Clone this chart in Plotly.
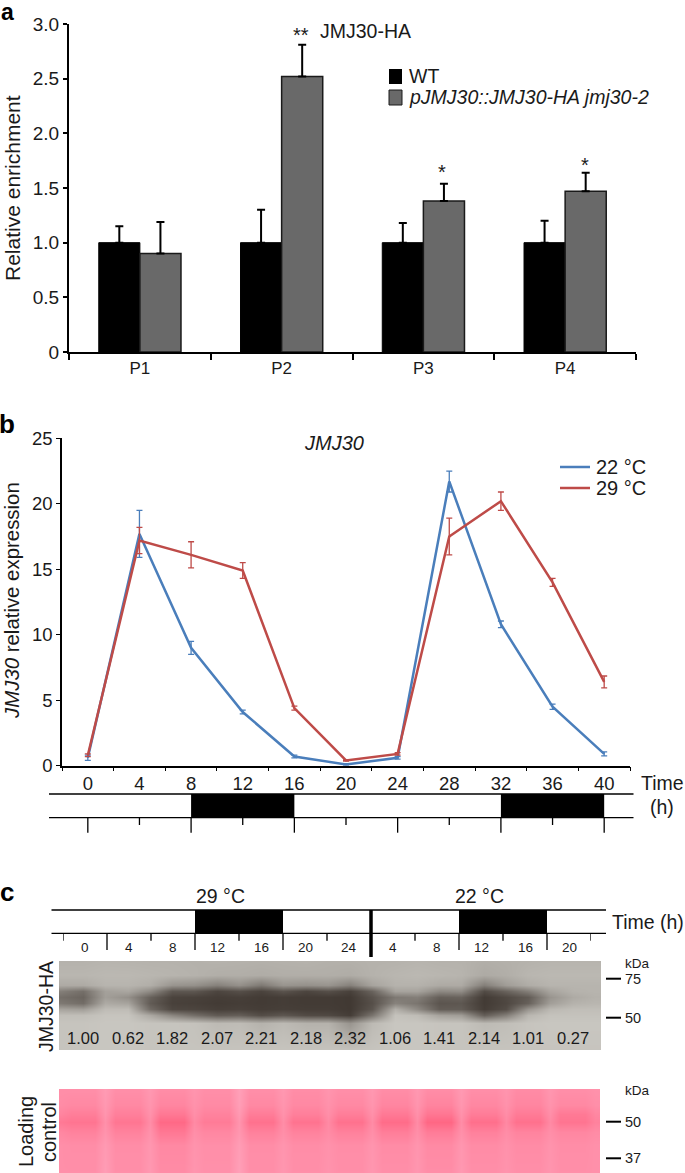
import plotly.graph_objects as go

W, H = 685, 1173
FONT = "Liberation Sans"

# ---- panel a
probes = ["P1", "P2", "P3", "P4"]
wt_values = [1.0, 1.0, 1.0, 1.0]
wt_err_up = [0.15, 0.30, 0.18, 0.20]
ha_values = [0.90, 2.52, 1.38, 1.47]
ha_err_up = [0.29, 0.29, 0.16, 0.17]
a_ticks = [0, 0.5, 1.0, 1.5, 2.0, 2.5, 3.0]
a_ticklabels = ["0", "0.5", "1.0", "1.5", "2.0", "2.5", "3.0"]

# ---- panel b
hours = [0, 4, 8, 12, 16, 20, 24, 28, 32, 36, 40]
expr_22 = [0.6, 17.7, 9.0, 4.1, 0.7, 0.1, 0.6, 21.7, 10.8, 4.5, 0.9]
err_22 = [0.2, 1.8, 0.5, 0.15, 0.1, 0.05, 0.1, 0.8, 0.25, 0.2, 0.15]
expr_29 = [0.8, 17.2, 16.1, 14.9, 4.4, 0.4, 0.9, 17.5, 20.2, 14.0, 6.4]
err_29 = [0.1, 1.0, 1.0, 0.6, 0.15, 0.05, 0.1, 1.4, 0.7, 0.3, 0.45]
b_separators = [-2, 2, 6, 10, 14, 18, 22, 26, 30, 34, 38, 42]
b_dark = [(8, 16), (32, 40)]
b_long_ticks = [0, 8, 16, 24, 32, 40]
b_short_ticks = [4, 12, 20, 28, 36]

# ---- panel c
c_hours = ["0", "4", "8", "12", "16", "20", "24", "4", "8", "12", "16", "20"]
c_quant = ["1.00", "0.62", "1.82", "2.07", "2.21", "2.18", "2.32", "1.06", "1.41", "2.14", "1.01", "0.27"]
c_dark = [(3, 5), (9, 11)]
c_long_ticks = [1, 3, 5, 9, 11]
c_short_ticks = [0, 2, 4, 6, 8, 10, 12]

blot_x = [i / 2 for i in range(25)]
blot_y = [0, 14, 24, 30, 36, 42, 48, 54, 62, 90]
blot_gray = [
    [180, 180, 182, 181, 180, 180, 179, 180, 179, 178, 179, 180, 178, 178, 180, 180, 182, 180, 180, 176, 178, 180, 182, 182, 182],
    [184, 184, 186, 186, 184, 182, 180, 176, 176, 174, 176, 176, 176, 174, 180, 184, 186, 184, 182, 172, 176, 184, 186, 186, 186],
    [172, 172, 182, 182, 176, 150, 146, 130, 146, 122, 150, 146, 150, 130, 165, 180, 180, 172, 172, 128, 158, 174, 182, 182, 182],
    [128, 112, 162, 168, 140, 88, 88, 70, 80, 68, 84, 70, 80, 66, 100, 165, 165, 138, 142, 76, 100, 128, 166, 180, 182],
    [112, 102, 160, 145, 98, 68, 66, 62, 64, 60, 62, 60, 60, 58, 84, 122, 128, 96, 100, 60, 74, 92, 150, 172, 180],
    [122, 110, 172, 165, 92, 66, 64, 60, 62, 60, 62, 60, 60, 58, 80, 132, 118, 86, 88, 60, 72, 98, 160, 180, 184],
    [165, 160, 190, 190, 108, 72, 70, 64, 66, 62, 64, 62, 62, 58, 86, 178, 140, 94, 94, 62, 78, 150, 186, 192, 192],
    [192, 192, 198, 198, 170, 136, 112, 92, 96, 78, 88, 76, 74, 62, 118, 196, 190, 165, 158, 96, 128, 184, 196, 196, 196],
    [198, 198, 200, 200, 198, 198, 196, 188, 190, 180, 188, 180, 180, 150, 188, 200, 200, 198, 198, 188, 192, 198, 200, 200, 200],
    [198, 198, 200, 200, 198, 198, 198, 198, 198, 198, 198, 198, 198, 198, 198, 200, 200, 198, 198, 198, 198, 198, 198, 198, 198],
]
pink_columns = [i / 2 for i in range(25)]
pink_y = [0, 16, 25, 33, 43, 56, 85]
pink_level = [
    [58, 58, 74, 58, 70, 56, 66, 58, 80, 58, 70, 56, 66, 58, 70, 56, 70, 56, 72, 58, 66, 54, 68, 58, 62],
    [54, 50, 70, 50, 66, 46, 62, 52, 78, 50, 66, 50, 62, 50, 66, 46, 66, 44, 68, 48, 62, 46, 64, 50, 58],
    [44, 36, 66, 38, 62, 28, 58, 42, 72, 34, 62, 38, 58, 36, 60, 30, 60, 26, 62, 34, 56, 32, 58, 30, 48],
    [30, 24, 60, 26, 56, 9, 52, 33, 66, 20, 56, 22, 52, 20, 54, 13, 54, 6, 56, 17, 50, 19, 52, 24, 42],
    [48, 42, 64, 42, 62, 28, 58, 48, 68, 40, 58, 42, 54, 40, 58, 36, 58, 34, 60, 40, 56, 44, 58, 48, 54],
    [58, 56, 72, 56, 68, 50, 64, 58, 76, 56, 66, 56, 62, 56, 66, 54, 66, 52, 68, 54, 62, 54, 64, 56, 60],
    [58, 58, 76, 58, 70, 54, 66, 60, 80, 58, 68, 58, 64, 58, 68, 58, 68, 56, 70, 58, 64, 58, 66, 58, 60],
]

# each lane reading is held across the lane's width; gap readings stay narrow
pink_x = []
pink_src = []
for k, c in enumerate(pink_columns):
    if k % 2:
        pink_x += [c - 0.28, c + 0.28]
        pink_src += [k, k]
    else:
        pink_x.append(c)
        pink_src.append(k)
pink_z = [[row[k] for k in pink_src] for row in pink_level]


def px(x):
    return x / W


def py(y):
    return 1 - y / H


def dom_x(a, b):
    return [px(a), px(b)]


def dom_y(top, bottom):
    return [py(bottom), py(top)]


fig = go.Figure()

# panel a bars
fig.add_trace(go.Bar(
    x=probes, y=wt_values, name="WT", xaxis="x", yaxis="y",
    marker=dict(color="#000000", line=dict(color="#000000", width=1)),
    error_y=dict(type="data", symmetric=False, array=wt_err_up, arrayminus=[0] * 4,
                 color="#000000", thickness=2, width=4),
))
fig.add_trace(go.Bar(
    x=probes, y=ha_values, name="pJMJ30::JMJ30-HA jmj30-2", xaxis="x", yaxis="y",
    marker=dict(color="#696969", line=dict(color="#1a1a1a", width=1.5)),
    error_y=dict(type="data", symmetric=False, array=ha_err_up, arrayminus=[0] * 4,
                 color="#000000", thickness=2, width=4),
))

# panel b lines
fig.add_trace(go.Scatter(
    x=hours, y=expr_22, name="22 °C", mode="lines", xaxis="x2", yaxis="y2",
    line=dict(color="#4a7ebb", width=2.5),
    error_y=dict(type="data", array=err_22, color="#4a7ebb", thickness=1.3, width=3),
))
fig.add_trace(go.Scatter(
    x=hours, y=expr_29, name="29 °C", mode="lines", xaxis="x2", yaxis="y2",
    line=dict(color="#be4b48", width=2.5),
    error_y=dict(type="data", array=err_29, color="#be4b48", thickness=1.3, width=3),
))

# panel c blots
fig.add_trace(go.Heatmap(
    x=blot_x, y=blot_y, z=blot_gray, xaxis="x4", yaxis="y4", showscale=False, zsmooth="best",
    zmin=55, zmax=205, colorscale=[[0, "rgb(62,54,48)"], [1, "rgb(205,203,197)"]], hoverinfo="skip",
))
fig.add_trace(go.Heatmap(
    x=pink_x, y=pink_y, z=pink_z, xaxis="x5", yaxis="y5", showscale=False, zsmooth="best",
    zmin=0, zmax=100, colorscale=[[0, "rgb(255,98,128)"], [1, "rgb(255,175,198)"]], hoverinfo="skip",
))
fig.add_trace(go.Scatter(x=[0, 12], y=[0, 1], mode="markers", marker=dict(opacity=0), xaxis="x3", yaxis="y3",
                         hoverinfo="skip"))

shapes = []
LINE = dict(color="#000000", width=1.3)


def hline(ypos, x0, x1, line=LINE):
    return dict(type="line", xref="paper", yref="paper", x0=px(x0), x1=px(x1), y0=py(ypos), y1=py(ypos), line=line)


# legends drawn by hand, panel a swatches
shapes.append(dict(type="rect", xref="paper", yref="paper", x0=px(389), x1=px(402), y0=py(84), y1=py(69),
                   fillcolor="#000000", line=dict(width=0)))
shapes.append(dict(type="rect", xref="paper", yref="paper", x0=px(389), x1=px(402), y0=py(105), y1=py(90),
                   fillcolor="#696969", line=dict(color="#1a1a1a", width=1)))
# panel b legend keys
shapes.append(hline(467, 560, 590, dict(color="#4a7ebb", width=2.5)))
shapes.append(hline(488, 560, 590, dict(color="#be4b48", width=2.5)))

# panel b light/dark strip
for ypos in (794, 817.7):
    shapes.append(hline(ypos, 49, 633.5))
for start, end in b_dark:
    shapes.append(dict(type="rect", xref="x2", yref="paper", x0=start, x1=end, y0=py(817.7), y1=py(794),
                       fillcolor="#000000", line=dict(width=0)))
for t in b_long_ticks:
    shapes.append(dict(type="line", xref="x2", yref="paper", x0=t, x1=t, y0=py(817.7), y1=py(832.7), line=LINE))
for t in b_short_ticks:
    shapes.append(dict(type="line", xref="x2", yref="paper", x0=t, x1=t, y0=py(817.7), y1=py(825), line=LINE))

# panel c light/dark strip
for ypos in (910, 933.3):
    shapes.append(hline(ypos, 51.5, 606))
for start, end in c_dark:
    shapes.append(dict(type="rect", xref="x3", yref="paper", x0=start, x1=end, y0=py(933.3), y1=py(910),
                       fillcolor="#000000", line=dict(width=0)))
for t in c_long_ticks:
    shapes.append(dict(type="line", xref="x3", yref="paper", x0=t, x1=t, y0=py(933.3), y1=py(950), line=LINE))
for t in c_short_ticks:
    shapes.append(dict(type="line", xref="x3", yref="paper", x0=t, x1=t, y0=py(933.3), y1=py(940.7), line=LINE))
shapes.append(dict(type="line", xref="x3", yref="paper", x0=7, x1=7, y0=py(910), y1=py(957),
                   line=dict(color="#000000", width=3.5)))

# kDa dashes
for ypos in (978.7, 1017.7, 1121.7, 1158.3):
    shapes.append(hline(ypos, 606, 621, dict(color="#000000", width=2)))


def note(text, x, y, size=18, angle=0, color="#1a1a1a", anchor="center", **kw):
    return dict(text=text, x=px(x), y=py(y), xref="paper", yref="paper", showarrow=False,
                font=dict(family=FONT, size=size, color=color), textangle=angle,
                xanchor=anchor, yanchor="middle", **kw)


ann = [
    note("<b>a</b>", 7, 12, 23, color="#000000"),
    note("<b>b</b>", 7, 424, 26, color="#000000"),
    note("<b>c</b>", 7, 892, 26, color="#000000"),
    note("JMJ30-HA", 366, 31, 19.5),
    note("**", 301, 35, 20),
    note("*", 442, 172, 20),
    note("*", 585, 165, 20),
    note("WT", 407, 76, 19.5, anchor="left"),
    note("<i>pJMJ30::JMJ30-HA jmj30-2</i>", 407, 97, 19.5, anchor="left"),
    note("Relative enrichment", 12, 188, 21, angle=-90),
    note("<i>JMJ30</i>", 334, 443, 20),
    note("<i>JMJ30</i> relative expression", 12, 601, 20.4, angle=-90),
    note("22 °C", 594, 467, 20, anchor="left"),
    note("29 °C", 594, 488, 20, anchor="left"),
    note("Time", 662, 783, 19.5),
    note("(h)", 662, 807, 19.5),
    note("29 °C", 220.6, 896, 19.5),
    note("22 °C", 479, 896, 19.5),
    note("Time (h)", 648, 922, 19.5),
    note("JMJ30-HA", 46, 1007, 19.5, angle=-90),
    note("Loading", 26, 1132, 20, angle=-90),
    note("control", 49, 1132, 20, angle=-90),
    note("kDa", 637, 963, 13.5),
    note("75", 632.5, 978.7, 14.5),
    note("50", 632.5, 1017.7, 14.5),
    note("kDa", 637, 1090, 13.5),
    note("50", 632.5, 1121.7, 14.5),
    note("37", 632.5, 1158.3, 14.5),
]
for i, lab in enumerate(c_hours):
    ann.append(dict(text=lab, x=i + 0.5, xref="x3", y=py(947), yref="paper", showarrow=False,
                    font=dict(family=FONT, size=13.5, color="#1a1a1a"), yanchor="middle"))
for i, lab in enumerate(c_quant):
    ann.append(dict(text=lab, x=i + 0.5, xref="x4", y=py(1038), yref="paper", showarrow=False,
                    font=dict(family=FONT, size=16.5, color="#1a1a1a"), yanchor="middle"))

axis_font = dict(family=FONT, size=18.5, color="#1a1a1a")
fig.update_layout(
    width=W, height=H, autosize=False, margin=dict(l=0, r=0, t=0, b=0, pad=0, autoexpand=False),
    paper_bgcolor="#ffffff", plot_bgcolor="#ffffff", showlegend=False,
    barmode="group", bargap=0.42, bargroupgap=0,
    font=dict(family=FONT, color="#1a1a1a"),
    xaxis=dict(domain=dom_x(69, 636), anchor="y", type="category", categoryorder="array", categoryarray=probes,
               tickson="boundaries", ticks="outside", ticklen=6, tickwidth=1.5, tickcolor="#000000",
               showline=True, linecolor="#000000", linewidth=2, showgrid=False,
               tickfont=dict(family=FONT, size=17, color="#1a1a1a")),
    yaxis=dict(domain=dom_y(24, 352), anchor="x", range=[0, 3], tickvals=a_ticks, ticktext=a_ticklabels,
               ticks="outside", ticklen=4, tickwidth=2, tickcolor="#000000", showline=True, linecolor="#000000",
               linewidth=2, showgrid=False, zeroline=False, tickfont=dict(family=FONT, size=19, color="#1a1a1a")),
    xaxis2=dict(domain=dom_x(62, 630), anchor="y2", range=[-2, 42], tickvals=hours, ticktext=[str(h) for h in hours],
                ticks="", tickangle=0, showline=True, linecolor="#000000", linewidth=1.5, showgrid=False, zeroline=False,
                minor=dict(tickvals=b_separators, ticks="outside", ticklen=4, tickwidth=1.3, tickcolor="#000000", showgrid=False),
                tickfont=axis_font),
    yaxis2=dict(domain=dom_y(438.3, 765.7), anchor="x2", range=[0, 25], tickvals=[0, 5, 10, 15, 20, 25],
                ticks="outside", ticklen=4, tickwidth=1.3, tickcolor="#000000", showline=True, linecolor="#000000",
                linewidth=1.5, showgrid=False, zeroline=False, tickfont=axis_font),
    xaxis3=dict(domain=dom_x(63, 591), anchor="y3", range=[0, 12], visible=False),
    yaxis3=dict(domain=dom_y(910, 933.3), anchor="x3", range=[0, 1], visible=False),
    xaxis4=dict(domain=dom_x(59, 601), anchor="y4", range=[-0.04, 12.14], visible=False),
    yaxis4=dict(domain=dom_y(961, 1050), anchor="x4", range=[89, 0], visible=False),
    xaxis5=dict(domain=dom_x(59, 601), anchor="y5", range=[-0.04, 12.14], visible=False),
    yaxis5=dict(domain=dom_y(1089, 1173), anchor="x5", range=[84, 0], visible=False),
    shapes=shapes, annotations=ann,
)

fig.write_html("out.html", config={"displayModeBar": False},
               post_script="document.body.style.margin='0';")
